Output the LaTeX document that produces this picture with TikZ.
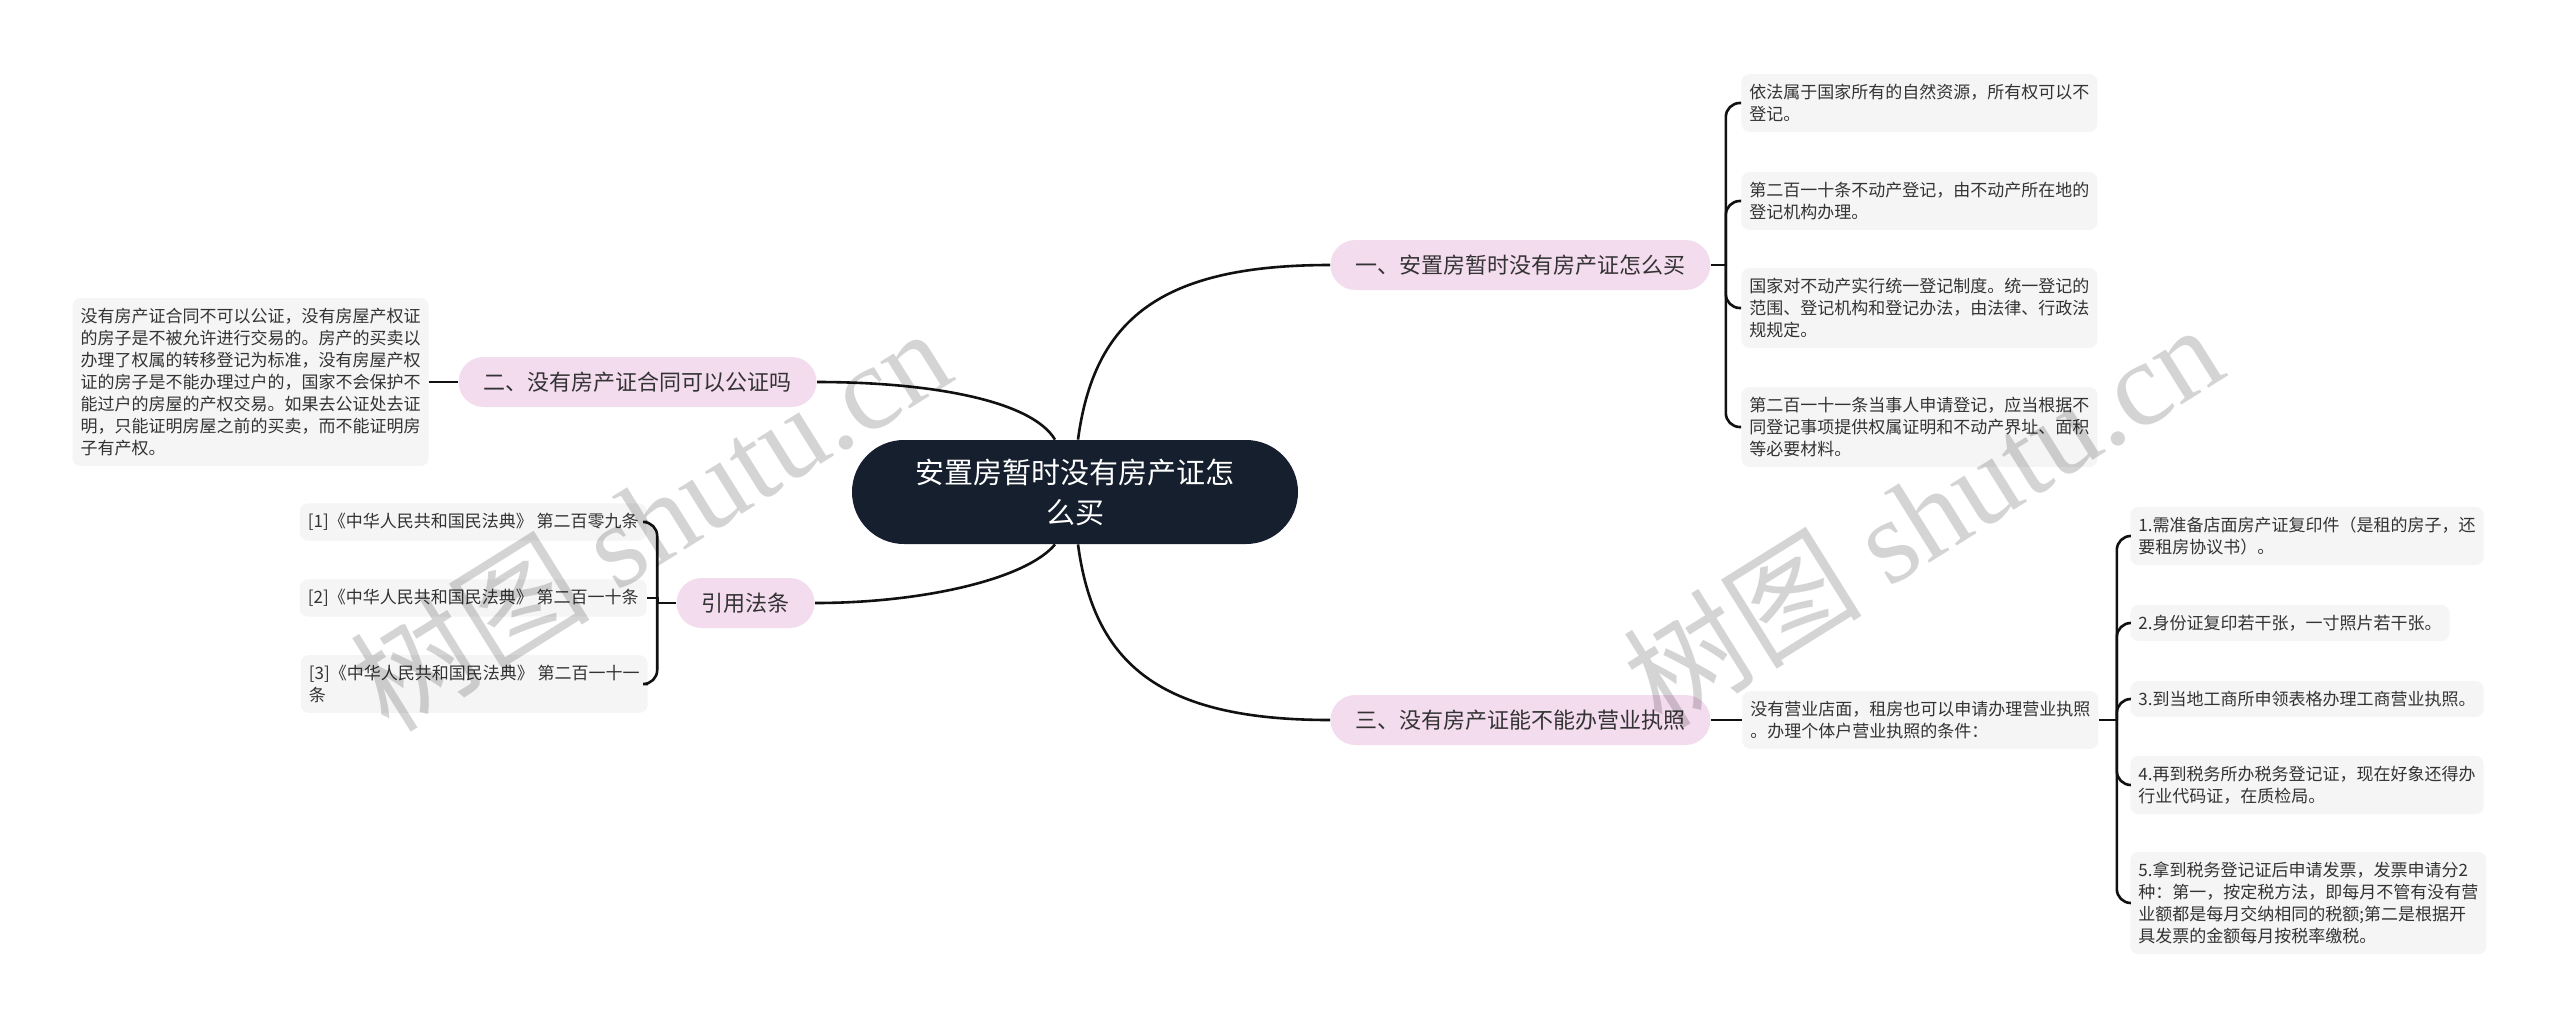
\documentclass[tikz,border=0pt]{standalone}
\usepackage{fontspec}
\setmainfont{Noto Sans CJK SC}
\newfontfamily\wmfont{Liberation Serif}
\usetikzlibrary{calc}
\definecolor{rootbg}{RGB}{21,31,46}
\definecolor{pinkbg}{RGB}{244,220,239}
\definecolor{leafbg}{RGB}{245,245,245}
\definecolor{txt}{RGB}{51,51,51}
\definecolor{linecol}{RGB}{17,17,17}

\begin{document}
\begin{tikzpicture}[x=0.5pt,y=-0.5pt,
  root/.style={fill=rootbg,text=white,rounded corners=26pt,minimum width=223pt,
               minimum height=52pt,align=center,font=\fontsize{14.5pt}{20pt}\selectfont},
  branch/.style={fill=pinkbg,text=txt,rounded corners=12.5pt,minimum height=25pt,
                 inner xsep=12.5pt,font=\fontsize{11pt}{14pt}\selectfont},
  leaf/.style={fill=leafbg,text=txt,rounded corners=4pt,inner xsep=4pt,inner ysep=5pt,
               align=left,font=\fontsize{8.5pt}{11pt}\selectfont},
  link/.style={draw=linecol,line width=1.3pt},
  elbow/.style={link,rounded corners=7pt},
  wmark/.style={text=black,text opacity=0.17,rotate=32,font=\fontsize{60pt}{66pt}\selectfont}
]
\fill[white] (0,0) rectangle (2560,1029);
\useasboundingbox (0,0) rectangle (2560,1029);

\node[root] (root) at (1075,492) {安置房暂时没有房产证怎\\么买};

\node[branch,anchor=west] (b1) at (1330,265) {一、安置房暂时没有房产证怎么买};
\node[branch,anchor=east] (b2) at (817,382) {二、没有房产证合同可以公证吗};
\node[branch,anchor=west] (b3) at (1330,720) {三、没有房产证能不能办营业执照};
\node[branch,anchor=east] (b4) at (815,603) {引用法条};

\node[leaf,anchor=west] (l11) at (1741,103) {依法属于国家所有的自然资源，所有权可以不\\登记。};
\node[leaf,anchor=west] (l12) at (1741,201) {第二百一十条不动产登记，由不动产所在地的\\登记机构办理。};
\node[leaf,anchor=west] (l13) at (1741,308) {国家对不动产实行统一登记制度。统一登记的\\范围、登记机构和登记办法，由法律、行政法\\规规定。};
\node[leaf,anchor=west] (l14) at (1741,427) {第二百一十一条当事人申请登记，应当根据不\\同登记事项提供权属证明和不动产界址、面积\\等必要材料。};

\node[leaf,anchor=east] (l21) at (429,382) {没有房产证合同不可以公证，没有房屋产权证\\的房子是不被允许进行交易的。房产的买卖以\\办理了权属的转移登记为标准，没有房屋产权\\证的房子是不能办理过户的，国家不会保护不\\能过户的房屋的产权交易。如果去公证处去证\\明，只能证明房屋之前的买卖，而不能证明房\\子有产权。};

\node[leaf,anchor=west] (l31) at (1742,720) {没有营业店面，租房也可以申请办理营业执照\\。办理个体户营业执照的条件：};
\node[leaf,anchor=west] (p1) at (2130,536) {1.需准备店面房产证复印件（是租的房子，还\\要租房协议书）。};
\node[leaf,anchor=west] (p2) at (2130,623) {2.身份证复印若干张，一寸照片若干张。};
\node[leaf,anchor=west] (p3) at (2130,699) {3.到当地工商所申领表格办理工商营业执照。};
\node[leaf,anchor=west] (p4) at (2130,785) {4.再到税务所办税务登记证，现在好象还得办\\行业代码证，在质检局。};
\node[leaf,anchor=west] (p5) at (2130,903) {5.拿到税务登记证后申请发票，发票申请分2\\种：第一，按定税方法，即每月不管有没有营\\业额都是每月交纳相同的税额;第二是根据开\\具发票的金额每月按税率缴税。};

\node[leaf,anchor=east] (l41) at (647,522) {[1]《中华人民共和国民法典》 第二百零九条};
\node[leaf,anchor=east] (l42) at (647,598) {[2]《中华人民共和国民法典》 第二百一十条};
\node[leaf,anchor=east] (l43) at (648,684) {[3]《中华人民共和国民法典》 第二百一十一\\条};

\draw[link] ($(root.north)+(3,0)$) .. controls +(16,-120) and +(-170,0) .. (b1.west);
\draw[link] ($(root.north)+(-20,0)$) .. controls +(-24,-40) and +(110,0) .. (b2.east);
\draw[link] ($(root.south)+(3,0)$) .. controls +(16,120) and +(-170,0) .. (b3.west);
\draw[link] ($(root.south)+(-20,0)$) .. controls +(-28,34) and +(110,0) .. (b4.east);

\coordinate (s1) at ($(b1.east)+(15,0)$);
\draw[link] (b1.east) -- (s1);
\foreach \n in {l11,l12,l13,l14} \draw[elbow] (s1) |- (\n.west);

\draw[link] (b2.west) -- (l21.east);

\draw[link] (b3.east) -- (l31.west);
\coordinate (s3) at ($(l31.east)+(18,0)$);
\draw[link] (l31.east) -- (s3);
\foreach \n in {p1,p2,p3,p4,p5} \draw[elbow] (s3) |- (\n.west);

\coordinate (s4) at ($(b4.west)+(-19,0)$);
\draw[link] (b4.west) -- (s4);
\draw[elbow] (s4) |- (l41.east);
\draw[link] (s4) |- (l42.east);
\draw[elbow] (s4) |- (l43.east);

\node[wmark] (wm1) at (650,518) {树图 {\wmfont shutu.cn}};
\node[wmark] (wm2) at (1922,514) {树图 {\wmfont shutu.cn}};
\end{tikzpicture}
\end{document}
